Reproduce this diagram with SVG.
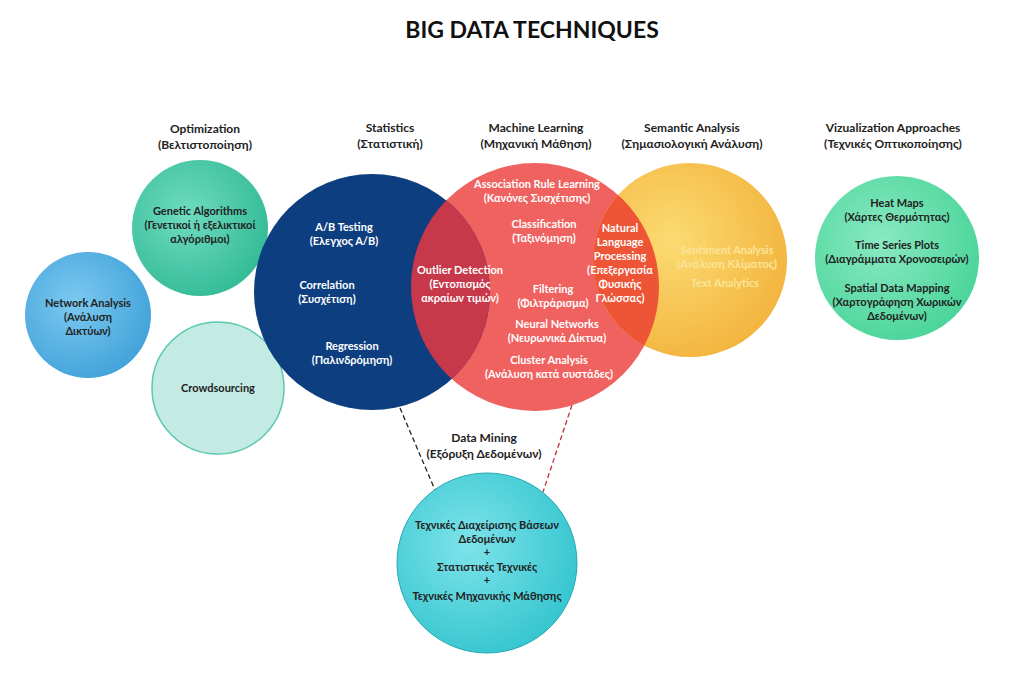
<svg xmlns="http://www.w3.org/2000/svg" width="1023" height="678" viewBox="0 0 1023 678">
<defs>
<radialGradient id="gy" cx="0.4" cy="0.4" r="0.7"><stop offset="0" stop-color="#fbdb72"/><stop offset="1" stop-color="#f2b13a"/></radialGradient>
<radialGradient id="gt" cx="0.4" cy="0.4" r="0.7"><stop offset="0" stop-color="#6fdcc0"/><stop offset="1" stop-color="#2fb893"/></radialGradient>
<radialGradient id="gb" cx="0.4" cy="0.4" r="0.7"><stop offset="0" stop-color="#7cc9f0"/><stop offset="1" stop-color="#3d9fd8"/></radialGradient>
<radialGradient id="gv" cx="0.4" cy="0.4" r="0.7"><stop offset="0" stop-color="#8ae9c3"/><stop offset="1" stop-color="#45d396"/></radialGradient>
<radialGradient id="gd" cx="0.4" cy="0.4" r="0.7"><stop offset="0" stop-color="#7ee3ea"/><stop offset="1" stop-color="#2fc3cd"/></radialGradient>
<clipPath id="cs"><circle cx="372" cy="292" r="118"/></clipPath>
<clipPath id="cy"><circle cx="690" cy="260" r="97"/></clipPath>
</defs>
<style>
text{font-family:Lato,"Noto Sans",sans-serif;font-weight:bold;text-anchor:middle;font-size:11px}
.h{font-size:12px;fill:#222}
.w{fill:#fff}
.d{fill:#222;font-size:11px}
.ly{fill:#fbe59a}
</style>
<rect width="1023" height="678" fill="#fff"/>
<text x="532" y="38" style="font-size:23px;fill:#111">BIG DATA TECHNIQUES</text>
<g id="connectors">
<line x1="400" y1="408" x2="435" y2="490" stroke="#222" stroke-width="1.3" stroke-dasharray="5,3"/>
<line x1="572" y1="405" x2="543" y2="492" stroke="#c0303a" stroke-width="1.3" stroke-dasharray="5,3"/>
</g>
<g id="headers">
<text class="h" x="205" y="133">Optimization</text><text class="h" x="205" y="149">(Βελτιστοποίηση)</text>
<text class="h" x="390" y="132">Statistics</text><text class="h" x="390" y="148">(Στατιστική)</text>
<text class="h" x="536" y="132">Machine Learning</text><text class="h" x="536" y="148">(Μηχανική Μάθηση)</text>
<text class="h" x="692" y="132">Semantic Analysis</text><text class="h" x="692" y="148">(Σημασιολογική Ανάλυση)</text>
<text class="h" x="893" y="132">Vizualization Approaches</text><text class="h" x="893" y="148">(Τεχνικές Οπτικοποίησης)</text>
</g>
<g id="genetic"><circle cx="200" cy="228" r="68" fill="url(#gt)"/>
<text class="d" x="200" y="215">Genetic Algorithms</text><text class="d" x="200" y="229">(Γενετικοί ή εξελικτικοί</text><text class="d" x="200" y="243">αλγόριθμοι)</text></g>
<g id="network"><circle cx="88" cy="315" r="63" fill="url(#gb)"/>
<text class="d" x="88" y="307">Network Analysis</text><text class="d" x="88" y="321">(Ανάλυση</text><text class="d" x="88" y="335">Δικτύων)</text></g>
<g id="crowd"><circle cx="218" cy="388" r="66" fill="#c3ebe4" stroke="#5cc7b0" stroke-width="1.5"/>
<text class="d" x="218" y="392">Crowdsourcing</text></g>
<g id="ml"><circle cx="535" cy="287" r="124" fill="#ef625f"/></g>
<g id="semantic"><circle cx="690" cy="260" r="97" fill="url(#gy)"/>
<circle cx="535" cy="287" r="124" fill="#ee5436" clip-path="url(#cy)"/>
<text class="ly" x="727" y="254">Sentiment Analysis</text><text class="ly" x="727" y="268">(Ανάλυση Κλίματος)</text>
<text class="ly" x="725" y="287">Text Analytics</text></g>
<g id="statistics"><circle cx="372" cy="292" r="118" fill="#0d3e80"/>
<circle cx="535" cy="287" r="124" fill="#c6384a" clip-path="url(#cs)"/>
<text class="w" x="344" y="231">A/B Testing</text><text class="w" x="344" y="245">(Ελεγχος Α/Β)</text>
<text class="w" x="327" y="289">Correlation</text><text class="w" x="327" y="303">(Συσχέτιση)</text>
<text class="w" x="352" y="350">Regression</text><text class="w" x="352" y="364">(Παλινδρόμηση)</text>
<text class="w" x="460" y="274">Outlier Detection</text><text class="w" x="460" y="288">(Εντοπισμός</text><text class="w" x="460" y="302">ακραίων τιμών)</text></g>
<g id="mltext">
<text class="w" x="537" y="188">Association Rule Learning</text><text class="w" x="537" y="202">(Κανόνες Συσχέτισης)</text>
<text class="w" x="544" y="228">Classification</text><text class="w" x="544" y="242">(Ταξινόμηση)</text>
<text class="w" x="553" y="293">Filtering</text><text class="w" x="553" y="307">(Φιλτράρισμα)</text>
<text class="w" x="557" y="328">Neural Networks</text><text class="w" x="557" y="342">(Νευρωνικά Δίκτυα)</text>
<text class="w" x="549" y="364">Cluster Analysis</text><text class="w" x="549" y="378">(Ανάλυση κατά συστάδες)</text>
<text class="w" x="620" y="232">Natural</text><text class="w" x="620" y="246">Language</text><text class="w" x="620" y="260">Processing</text><text class="w" x="620" y="274">(Επεξεργασία</text><text class="w" x="620" y="288">Φυσικής</text><text class="w" x="620" y="302">Γλώσσας)</text></g>
<g id="viz"><circle cx="897" cy="258" r="82" fill="url(#gv)"/>
<text class="d" x="897" y="207">Heat Maps</text><text class="d" x="897" y="221">(Χάρτες Θερμότητας)</text>
<text class="d" x="897" y="249">Time Series Plots</text><text class="d" x="897" y="263">(Διαγράμματα Χρονοσειρών)</text>
<text class="d" x="897" y="292">Spatial Data Mapping</text><text class="d" x="897" y="306">(Χαρτογράφηση Χωρικών</text><text class="d" x="897" y="320">Δεδομένων)</text></g>
<g id="datamining-label"><text class="h" x="484" y="442">Data Mining</text><text class="h" x="484" y="458">(Εξόρυξη Δεδομένων)</text></g>
<g id="datamining"><circle cx="487" cy="563" r="90" fill="url(#gd)" stroke="#26a9b3" stroke-width="1"/>
<text class="d" x="487" y="529">Τεχνικές Διαχείρισης Βάσεων</text><text class="d" x="487" y="543">Δεδομένων</text><text class="d" x="487" y="556">+</text>
<text class="d" x="487" y="571">Στατιστικές Τεχνικές</text><text class="d" x="487" y="584">+</text><text class="d" x="487" y="600">Τεχνικές Μηχανικής Μάθησης</text></g>
</svg>
